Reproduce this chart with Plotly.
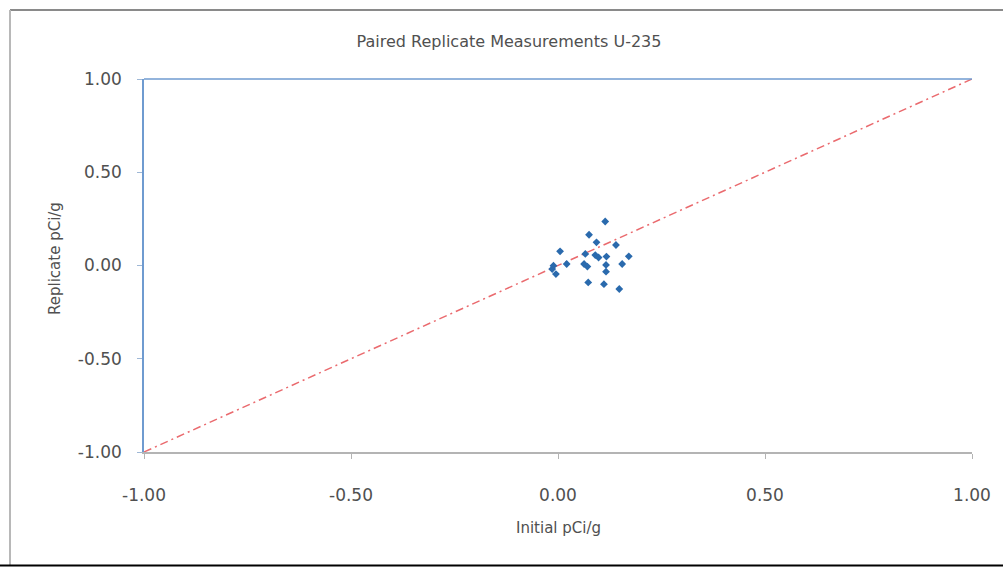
import plotly.graph_objects as go

# Data
initial = [0.114, 0.075, 0.093, 0.140, 0.005, 0.066, 0.090, 0.098, 0.117, 0.171,
           0.021, 0.063, 0.071, -0.011, -0.005, 0.116, 0.116, 0.155, 0.073, 0.111,
           0.148, -0.014]
replicate = [0.236, 0.165, 0.124, 0.110, 0.076, 0.062, 0.056, 0.043, 0.048, 0.049,
             0.008, 0.008, -0.006, -0.001, -0.046, 0.003, -0.033, 0.008, -0.091, -0.100,
             -0.126, -0.019]
line_x = [-1.0, 1.0]
line_y = [-1.0, 1.0]
tick_vals = [-1.0, -0.5, 0.0, 0.5, 1.0]
tick_text = ["-1.00", "-0.50", "0.00", "0.50", "1.00"]

FONT = "DejaVu Sans"
TXT = "#505050"
BLUE = "#6f9bd0"

fig = go.Figure()
fig.add_trace(go.Scatter(
    x=line_x, y=line_y, mode="lines",
    line=dict(color="#ea6a6e", width=1.5, dash="8px,4px,2px,4px"),
    hoverinfo="skip", showlegend=False))
fig.add_trace(go.Scatter(
    x=initial, y=replicate, mode="markers",
    marker=dict(symbol="diamond", size=6, color="#2a6aad"),
    showlegend=False))

fig.update_layout(
    width=1003, height=567,
    margin=dict(l=144, r=31, t=79, b=115),
    paper_bgcolor="white", plot_bgcolor="white",
    font=dict(family=FONT, color=TXT, size=17),
    title=dict(text="Paired Replicate Measurements U-235",
               x=509/1003, y=1-41/567, xanchor="center", yanchor="middle",
               font=dict(family=FONT, size=16, color=TXT)),
    xaxis=dict(range=[-1, 1], tickvals=tick_vals, ticktext=tick_text,
               showgrid=False, zeroline=False, showline=True,
               linecolor="#b4b4b4", linewidth=1.5,
               ticks="outside", ticklen=5, tickcolor="#b4b4b4",
               ticklabelstandoff=22, tickfont=dict(size=17, color=TXT)),
    yaxis=dict(range=[-1, 1], tickvals=tick_vals, ticktext=tick_text,
               showgrid=False, zeroline=False, showline=True,
               linecolor=BLUE, linewidth=1.5,
               ticks="outside", ticklen=5, tickcolor="#9fb8d6",
               ticklabelstandoff=12, tickfont=dict(size=17, color=TXT)),
    annotations=[
        dict(text="Initial pCi/g", xref="paper", yref="paper",
             x=(558-144)/828, y=(452-528)/373, xanchor="center", yanchor="middle",
             showarrow=False, font=dict(size=15, color=TXT)),
        dict(text="Replicate pCi/g", xref="paper", yref="paper",
             x=(55-144)/828, y=(452-259)/373, xanchor="center", yanchor="middle",
             textangle=-90, showarrow=False, font=dict(size=15, color=TXT)),
    ],
    shapes=[
        # top plot-area line (blue)
        dict(type="line", xref="paper", yref="paper", x0=0, x1=1, y0=1, y1=1,
             line=dict(color=BLUE, width=1.5), layer="above"),
        # chart-area border
        dict(type="line", xref="paper", yref="paper",
             x0=(10-144)/828, x1=(1003-144)/828, y0=(452-10)/373, y1=(452-10)/373,
             line=dict(color="#8a8a8a", width=2)),
        dict(type="line", xref="paper", yref="paper",
             x0=(10-144)/828, x1=(10-144)/828, y0=(452-10)/373, y1=(452-565)/373,
             line=dict(color="#b8b8b8", width=2)),
        dict(type="line", xref="paper", yref="paper",
             x0=(0-144)/828, x1=(1003-144)/828, y0=(452-565.5)/373, y1=(452-565.5)/373,
             line=dict(color="#000000", width=2)),
    ],
)

fig.write_html("out.html")
